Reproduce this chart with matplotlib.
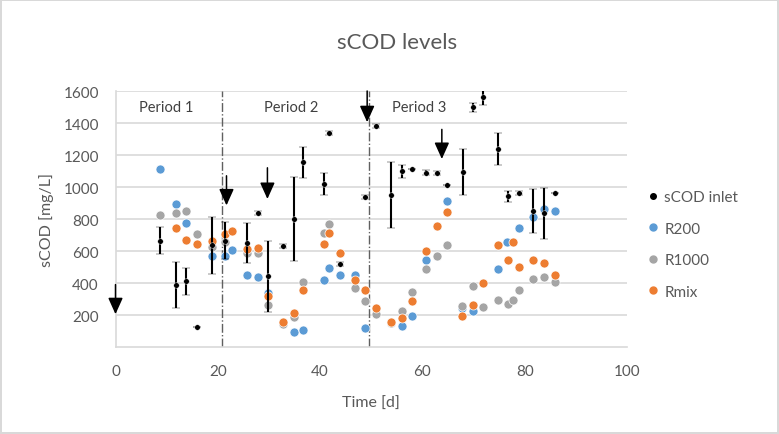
import matplotlib
matplotlib.use("Agg")
import matplotlib.pyplot as plt
from matplotlib.lines import Line2D

plt.rcParams['font.family'] = ['Lato', 'DejaVu Sans']

# ---------------- data ----------------
inlet_t = [8.7, 11.8, 13.8, 16.0, 18.8, 21.5, 25.8, 27.8, 29.9, 32.8, 34.8, 36.7,
           40.8, 41.8, 43.9, 48.8, 50.9, 53.9, 56.0, 57.9, 60.8, 62.9, 64.9, 68.0,
           69.8, 71.9, 74.8, 76.8, 78.9, 81.7, 83.8, 85.9]
inlet_v = [665, 387, 410, 123, 635, 665, 650, 835, 442, 629, 800, 1154,
           1019, 1335, 519, 935, 1383, 950, 1098, 1110, 1090, 1087, 1015, 1092,
           1498, 1560, 1237, 941, 962, 850, 835, 962]
inlet_err = [85, 146, 85, 0, 180, 115, 122, 12, 222, 12, 260, 97,
             68, 12, 15, 12, 12, 205, 40, 0, 15, 12, 0, 143,
             30, 50, 102, 35, 10, 135, 160, 0]

r200_t = [8.7, 11.8, 13.8, 18.8, 21.5, 22.8, 25.8, 27.8, 29.9, 34.8, 36.7, 40.8,
          41.8, 43.9, 46.8, 48.8, 56.0, 57.9, 60.8, 64.9, 67.7, 69.8, 74.8, 76.6,
          78.9, 81.7, 83.8, 85.9]
r200_v = [1115, 894, 773, 567, 571, 608, 450, 440, 340, 95, 108, 421,
          494, 450, 450, 119, 129, 192, 546, 914, 242, 227, 487, 658,
          744, 810, 862, 852]

r1000_t = [8.7, 11.8, 13.8, 16.0, 18.8, 21.5, 25.8, 27.8, 29.9, 32.8, 34.8, 36.7,
           40.8, 41.8, 46.8, 48.8, 50.9, 53.9, 56.0, 57.9, 60.8, 62.9, 64.9, 67.7,
           69.8, 71.9, 74.8, 76.8, 77.7, 78.9, 81.7, 83.8, 85.9]
r1000_v = [825, 835, 848, 704, 628, 654, 585, 587, 262, 145, 190, 406,
           712, 769, 369, 285, 206, 150, 227, 342, 487, 571, 635, 259,
           381, 250, 294, 269, 294, 356, 425, 440, 404]

rmix_t = [11.8, 13.8, 16.0, 18.8, 21.5, 22.8, 25.8, 27.8, 29.9, 32.8, 34.8, 36.7,
          40.8, 41.8, 43.9, 46.8, 48.8, 50.9, 53.9, 56.0, 57.9, 60.8, 62.9, 64.9,
          67.7, 69.8, 71.9, 74.8, 76.8, 77.7, 78.9, 81.7, 83.8, 85.9]
rmix_v = [742, 669, 642, 660, 706, 723, 612, 617, 317, 154, 210, 356,
          642, 712, 587, 419, 356, 244, 158, 180, 290, 602, 756, 842,
          192, 262, 397, 638, 546, 658, 502, 544, 523, 450]

period_lines = [20.9, 49.6]
period_labels = ["Period 1", "Period 2", "Period 3"]
period_label_t = [9.9, 34.3, 59.4]
# feeding-change arrows: (time, start value, tip value)
arrows = [(0.0, 390, 205), (21.7, 1070, 885), (29.7, 1120, 925),
          (49.2, 1600, 1405), (63.8, 1360, 1175)]

x_ticks = [0, 20, 40, 60, 80, 100]
y_ticks = [200, 400, 600, 800, 1000, 1200, 1400, 1600]

# ---------------- styles ----------------
C_BLUE = '#5B9BD5'
C_GREY = '#A5A5A5'
C_ORANGE = '#ED7D31'
C_TEXT = '#595959'
C_GRID = '#D9D9D9'

W, H = 779, 435
fig = plt.figure(figsize=(W / 100, H / 100), dpi=100)
fig.patch.set_facecolor('white')
fig.patch.set_edgecolor(C_GRID)
fig.patch.set_linewidth(1.5)

ax = fig.add_axes([115.5 / W, 1 - 348 / H, (627 - 115.5) / W, (348 - 92) / H])
ax.set_xlim(0, 100)
ax.set_ylim(0, 1600)

for s in ['top', 'right']:
    ax.spines[s].set_visible(False)
ax.spines['left'].set_color(C_GRID)
ax.spines['bottom'].set_color(C_GRID)
ax.spines['left'].set_linewidth(1.2)
ax.spines['bottom'].set_linewidth(1.2)

ax.set_xticks(x_ticks)
ax.set_yticks(y_ticks)
ax.tick_params(axis='both', length=0, labelsize=11, labelcolor=C_TEXT, pad=12)
ax.yaxis.grid(True, color=C_GRID, linewidth=1.2)
ax.set_axisbelow(True)

for xl in period_lines:
    ax.plot([xl, xl], [0, 1600], color='#606060', lw=1.0, ls='-.', zorder=1)

ms = 6.5
ax.plot(r200_t, r200_v, 'o', color=C_BLUE, ms=ms, mec='white', mew=0.5, zorder=3)
ax.plot(r1000_t, r1000_v, 'o', color=C_GREY, ms=ms, mec='white', mew=0.5, zorder=3)
ax.plot(rmix_t, rmix_v, 'o', color=C_ORANGE, ms=ms, mec='white', mew=0.5, zorder=3)
ax.errorbar(inlet_t, inlet_v, yerr=inlet_err, fmt='o', color='black', ms=4,
            mec='white', mew=0.3, ecolor='black', elinewidth=1.5, capsize=3.2,
            capthick=1.5, zorder=4)

for lbl, tx in zip(period_labels, period_label_t):
    ax.text(tx, 1500, lbl, ha='center', va='center', fontsize=10.5, color='#404040')

for tx, y0, y1 in arrows:
    ax.annotate('', xy=(tx, y1), xytext=(tx, y0),
                arrowprops=dict(arrowstyle='-|>,head_length=1.0,head_width=0.45',
                                color='black', lw=1.1, shrinkA=0, shrinkB=0,
                                mutation_scale=10),
                annotation_clip=False, zorder=5)

ax.set_xlabel('Time [d]', fontsize=11.5, color=C_TEXT, labelpad=13)
ax.set_ylabel('sCOD [mg/L]', fontsize=11.5, color=C_TEXT, labelpad=7)

fig.text(397 / W, 1 - 43 / H, 'sCOD levels', ha='center', va='center',
         fontsize=16, color=C_TEXT)

handles = [
    Line2D([], [], ls='none', marker='o', color='black', ms=4),
    Line2D([], [], ls='none', marker='o', color=C_BLUE, ms=5),
    Line2D([], [], ls='none', marker='o', color=C_GREY, ms=5),
    Line2D([], [], ls='none', marker='o', color=C_ORANGE, ms=5),
]
labels = ['sCOD inlet', 'R200', 'R1000', 'Rmix']
leg = fig.legend(handles, labels, loc='upper left',
                 bbox_to_anchor=(642 / W, 1 - 185 / H), frameon=False,
                 fontsize=11, labelspacing=1.15, handlelength=0.6,
                 handletextpad=0.45, borderaxespad=0)
for t in leg.get_texts():
    t.set_color(C_TEXT)

fig.savefig('out.png', dpi=100, facecolor=fig.get_facecolor(),
            edgecolor=fig.get_edgecolor())
